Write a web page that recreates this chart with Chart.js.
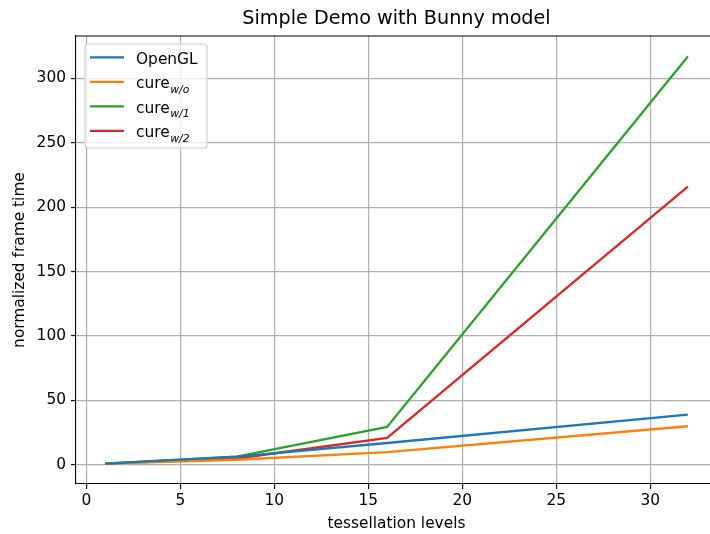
<!DOCTYPE html>
<html>
<head>
<meta charset="utf-8">
<title>Simple Demo with Bunny model</title>
<script src="https://cdn.jsdelivr.net/npm/chart.js@4"></script>
<style>
  html, body { margin: 0; padding: 0; background: #fff; overflow: hidden; }
  #wrap { width: 720px; height: 534px; }
</style>
</head>
<body>
<div id="wrap"><canvas id="benchChart" width="720" height="534"></canvas></div>
<script>
// values
const levels = [1, 8, 16, 32];
const opengl = [1, 6.5, 17, 39];
const cureWo = [1, 4, 10, 30];
const cureW1 = [1, 6.5, 29.5, 317];
const cureW2 = [1, 5, 21, 216];

const seriesNames = ['OpenGL', 'cure', 'cure', 'cure'];
const seriesSubs = ['', 'w/o', 'w/1', 'w/2'];
const seriesColors = ['#1f77b4', '#ff7f0e', '#2ca02c', '#d62728'];

const xTicks = [0, 5, 10, 15, 20, 25, 30];
const yTicks = [0, 50, 100, 150, 200, 250, 300];

Chart.defaults.font.family = "'DejaVu Sans', sans-serif";
Chart.defaults.color = '#000';

const toPoints = ys => levels.map((x, i) => ({ x: x, y: ys[i] }));

// matplotlib-ish legend with subscripts, plus the top/right spines
// (the axes run a little past the 710px window, like the original)
const mplLegend = {
  id: 'mplLegend',
  afterDatasetsDraw(chart) {
    const ctx = chart.ctx;
    const area = chart.chartArea;
    ctx.save();
    ctx.strokeStyle = '#000';
    ctx.lineWidth = 1.1;
    ctx.beginPath();
    ctx.moveTo(area.left, area.top);
    ctx.lineTo(area.right, area.top);
    ctx.lineTo(area.right, area.bottom);
    ctx.stroke();

    // legend frame
    const bx = 85, by = 44, bw = 122, bh = 104, r = 3;
    ctx.beginPath();
    ctx.moveTo(bx + r, by);
    ctx.arcTo(bx + bw, by, bx + bw, by + bh, r);
    ctx.arcTo(bx + bw, by + bh, bx, by + bh, r);
    ctx.arcTo(bx, by + bh, bx, by, r);
    ctx.arcTo(bx, by, bx + bw, by, r);
    ctx.closePath();
    ctx.fillStyle = 'rgba(255,255,255,0.8)';
    ctx.fill();
    ctx.strokeStyle = '#cccccc';
    ctx.lineWidth = 1.1;
    ctx.stroke();

    chart.data.datasets.forEach((ds, i) => {
      const y = 57.3 + i * 24.5;
      ctx.strokeStyle = ds.borderColor;
      ctx.lineWidth = 2.3;
      ctx.lineCap = 'butt';
      ctx.beginPath();
      ctx.moveTo(90, y);
      ctx.lineTo(124, y);
      ctx.stroke();

      ctx.fillStyle = '#000';
      ctx.textBaseline = 'alphabetic';
      ctx.textAlign = 'left';
      ctx.font = "15.4px 'DejaVu Sans'";
      const base = y + 6.5;
      ctx.fillText(seriesNames[i], 136, base);
      if (seriesSubs[i]) {
        const w = ctx.measureText(seriesNames[i]).width;
        ctx.font = "italic 10.8px 'DejaVu Sans'";
        ctx.fillText(seriesSubs[i], 136 + w + 0.5, base + 4.5);
      }
    });
    ctx.restore();
  }
};

const datasets = [opengl, cureWo, cureW1, cureW2].map((ys, i) => ({
  label: seriesNames[i] + (seriesSubs[i] ? ' ' + seriesSubs[i] : ''),
  data: toPoints(ys),
  borderColor: seriesColors[i],
  backgroundColor: seriesColors[i],
  borderWidth: 2.3,
  pointRadius: 0,
  tension: 0,
  fill: false
}));

new Chart(document.getElementById('benchChart'), {
  type: 'line',
  data: { datasets: datasets },
  options: {
    responsive: false,
    animation: false,
    layout: { padding: { left: 0, right: 3, top: 0, bottom: 0 } },
    plugins: {
      legend: { display: false },
      tooltip: { enabled: false },
      title: {
        display: true,
        fullSize: false,
        text: 'Simple Demo with Bunny model',
        color: '#000',
        font: { size: 19.2, weight: 'normal', lineHeight: 1.2 },
        padding: { top: 7.5, bottom: 5.5 }
      }
    },
    scales: {
      x: {
        type: 'linear',
        min: -0.55,
        max: 33.55,
        afterBuildTicks: s => { s.ticks = xTicks.map(v => ({ value: v })); },
        afterFit: s => { s.height = 50; },
        ticks: { font: { size: 15.4 }, padding: 3, maxRotation: 0, autoSkip: false },
        grid: { color: '#b0b0b0', lineWidth: 1.2, tickLength: 5, tickColor: '#000', tickWidth: 1.1 },
        border: { color: '#000', width: 1.1 },
        title: {
          display: true,
          text: 'tessellation levels',
          font: { size: 15.4, lineHeight: 1.2 },
          padding: { top: 0, bottom: 1 }
        }
      },
      y: {
        type: 'linear',
        min: -14.8,
        max: 332.8,
        afterBuildTicks: s => { s.ticks = yTicks.map(v => ({ value: v })); },
        afterFit: s => { s.width = 76; },
        ticks: { font: { size: 15.4 }, padding: 5, autoSkip: false },
        grid: { color: '#b0b0b0', lineWidth: 1.2, tickLength: 5, tickColor: '#000', tickWidth: 1.1 },
        border: { color: '#000', width: 1.1 },
        title: {
          display: true,
          text: 'normalized frame time',
          font: { size: 15.4, lineHeight: 1.2 },
          padding: { top: 11, bottom: 0 }
        }
      }
    }
  },
  plugins: [mplLegend]
});
</script>
</body>
</html>
